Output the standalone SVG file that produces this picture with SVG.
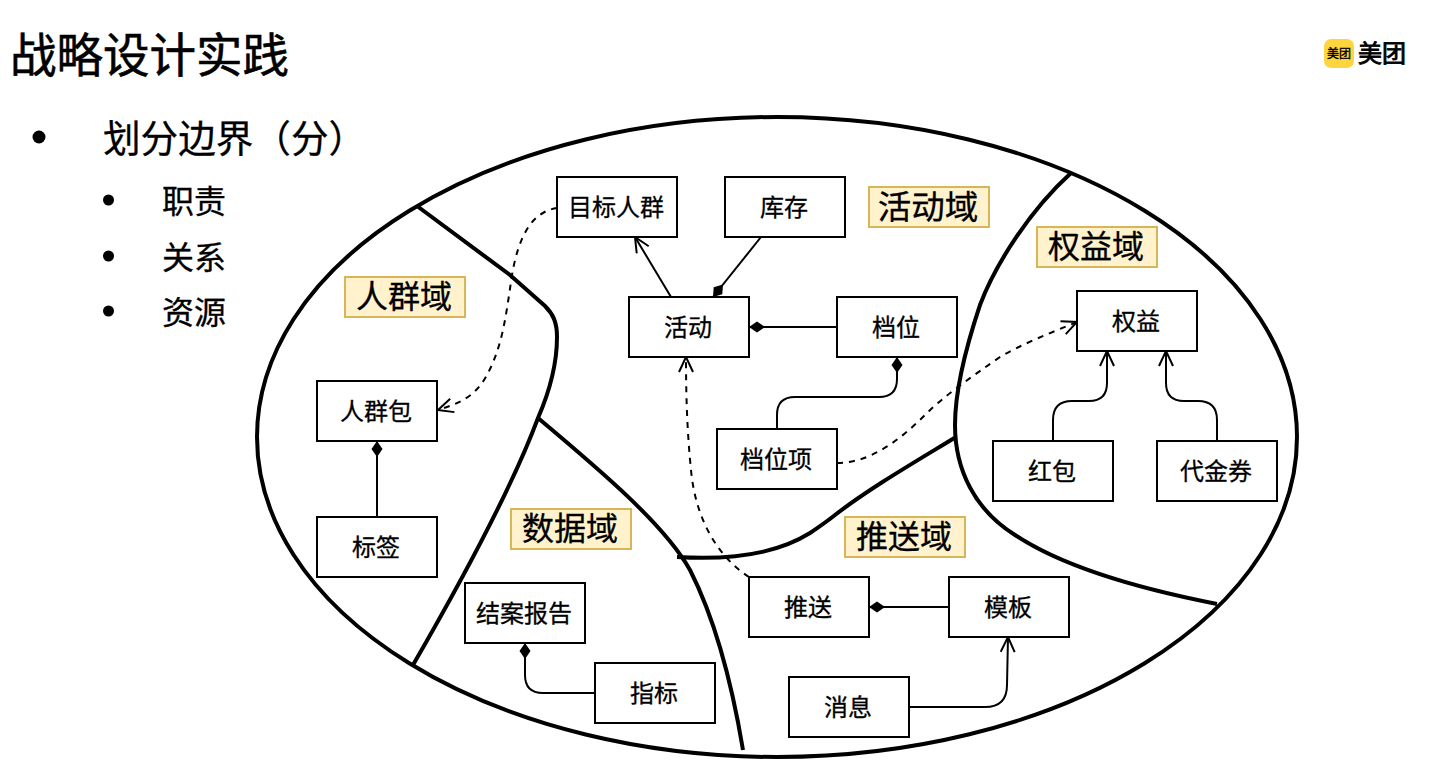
<svg xmlns="http://www.w3.org/2000/svg" width="1432" height="774" viewBox="0 0 1432 774">
<style>
text{font-family:"Liberation Sans","Noto Sans CJK SC",sans-serif;fill:#000;stroke:#000;stroke-width:.3}
.n rect{fill:#fff;stroke:#000;stroke-width:2}
.n text{font-size:24px;text-anchor:middle;dominant-baseline:central}
.l rect{fill:#fff2cc;stroke:#d6b656;stroke-width:2}
.l text{font-size:32px;text-anchor:middle;dominant-baseline:central}
.b{fill:none;stroke:#000;stroke-width:4}
.c{fill:none;stroke:#000;stroke-width:2}
.d{stroke-dasharray:6 6}
.h{font-size:32px}
</style>
<defs>
<marker id="open" markerWidth="18" markerHeight="18" refX="16" refY="8" orient="auto" markerUnits="userSpaceOnUse"><path d="M1 1L16 8L1 15" fill="none" stroke="#000" stroke-width="2"/></marker>
<marker id="dia" markerWidth="20" markerHeight="12" refX="17" refY="6" orient="auto" markerUnits="userSpaceOnUse"><path d="M1 6L9 .5L17 6L9 11.500Z" fill="#000"/></marker>
</defs>
<rect width="1432" height="774" fill="#fff"/>
<text x="10" y="72" font-size="46.500" style="stroke-width:.6">战略设计实践</text>
<circle cx="39" cy="137" r="6.500"/>
<text x="103" y="152" font-size="37.600">划分边界（分）</text>
<circle cx="108.500" cy="200" r="5.500"/><text class="h" x="162" y="213">职责</text>
<circle cx="108.500" cy="256" r="5.500"/><text class="h" x="162" y="269">关系</text>
<circle cx="108.500" cy="311" r="5.500"/><text class="h" x="162" y="324">资源</text>
<g id="logo">
<rect x="1324" y="39" width="30" height="29" rx="7" fill="#ffd53f"/>
<text x="1339" y="58" font-size="12" text-anchor="middle" style="stroke-width:.4">美团</text>
<text x="1382" y="62" font-size="24" text-anchor="middle" style="stroke-width:.9">美团</text>
</g>
<g id="boundaries">
<ellipse class="b" cx="777" cy="437" rx="520" ry="320"/>
<path class="b" d="M417 206L510 275L545 306C553 314 557 322 557 337C557 365 548 395 538 418C515 480 465 575 413 665"/>
<path class="b" d="M538 418C600 470 665 525 690 570C718 625 733 690 743 750"/>
<path class="b" d="M677 557C725 560 775 555 810 533C820 526 825 523 835 515C870 488 915 462 956 437"/>
<path class="b" d="M1071 173C1030 210 995 265 980 305C965 350 955 395 955 425C955 470 975 510 1015 535C1060 565 1130 587 1217 604"/>
</g>
<g id="connectors">
<path class="c d" d="M557 208C530 212 518 240 512 275C506 315 503 345 487 375C475 397 460 403 438 410" marker-end="url(#open)"/>
<path class="c" d="M671 297L635 237" marker-end="url(#open)"/>
<path class="c" d="M761 237L713 297" marker-end="url(#dia)"/>
<path class="c" d="M837 327L749 327" marker-end="url(#dia)"/>
<path class="c" d="M777 429V415Q777 397 795 397H879Q897 397 897 379V357" marker-end="url(#dia)"/>
<path class="c d" d="M837 463C870 463 900 440 925 415C945 395 970 378 1000 357C1020 345 1050 333 1077 322" marker-end="url(#open)"/>
<path class="c d" d="M749 577C715 555 695 515 691 470C687 430 686 395 686 357" marker-end="url(#open)"/>
<path class="c" d="M377 517V441" marker-end="url(#dia)"/>
<path class="c" d="M595 693H543Q525 693 525 675V643" marker-end="url(#dia)"/>
<path class="c" d="M949 607H869" marker-end="url(#dia)"/>
<path class="c" d="M909 707H985Q1007 707 1007 685L1008 637" marker-end="url(#open)"/>
<path class="c" d="M1053 441V420Q1053 401 1072 401H1089Q1107 401 1107 383V351" marker-end="url(#open)"/>
<path class="c" d="M1217 441V420Q1217 401 1198 401H1184Q1166 401 1166 383V351" marker-end="url(#open)"/>
</g>
<g id="n-target" class="n"><rect x="557" y="177" width="120" height="60"/><text x="616" y="207">目标人群</text></g>
<g id="n-stock" class="n"><rect x="725" y="177" width="120" height="60"/><text x="784" y="207">库存</text></g>
<g id="n-activity" class="n"><rect x="629" y="297" width="120" height="60"/><text x="688" y="327">活动</text></g>
<g id="n-tier" class="n"><rect x="837" y="297" width="120" height="60"/><text x="896" y="327">档位</text></g>
<g id="n-tieritem" class="n"><rect x="717" y="429" width="120" height="60"/><text x="776" y="459">档位项</text></g>
<g id="n-rights" class="n"><rect x="1077" y="291" width="120" height="60"/><text x="1136" y="321">权益</text></g>
<g id="n-redpack" class="n"><rect x="993" y="441" width="120" height="60"/><text x="1052" y="471">红包</text></g>
<g id="n-voucher" class="n"><rect x="1157" y="441" width="120" height="60"/><text x="1216" y="471">代金券</text></g>
<g id="n-crowd" class="n"><rect x="317" y="381" width="120" height="60"/><text x="376" y="411">人群包</text></g>
<g id="n-tag" class="n"><rect x="317" y="517" width="120" height="60"/><text x="376" y="547">标签</text></g>
<g id="n-report" class="n"><rect x="465" y="583" width="120" height="60"/><text x="524" y="613">结案报告</text></g>
<g id="n-metric" class="n"><rect x="595" y="663" width="120" height="60"/><text x="654" y="693">指标</text></g>
<g id="n-push" class="n"><rect x="749" y="577" width="120" height="60"/><text x="808" y="607">推送</text></g>
<g id="n-template" class="n"><rect x="949" y="577" width="120" height="60"/><text x="1008" y="607">模板</text></g>
<g id="n-message" class="n"><rect x="789" y="677" width="120" height="60"/><text x="848" y="707">消息</text></g>
<g id="l-activity" class="l"><rect x="869" y="187" width="120" height="40"/><text x="928" y="207" style="font-size:33.500px">活动域</text></g>
<g id="l-rights" class="l"><rect x="1037" y="227" width="120" height="40"/><text x="1096" y="247">权益域</text></g>
<g id="l-crowd" class="l"><rect x="345" y="277" width="120" height="40"/><text x="404" y="297">人群域</text></g>
<g id="l-data" class="l"><rect x="511" y="509" width="120" height="40"/><text x="570" y="529">数据域</text></g>
<g id="l-push" class="l"><rect x="845" y="517" width="120" height="40"/><text x="904" y="537">推送域</text></g>
</svg>
